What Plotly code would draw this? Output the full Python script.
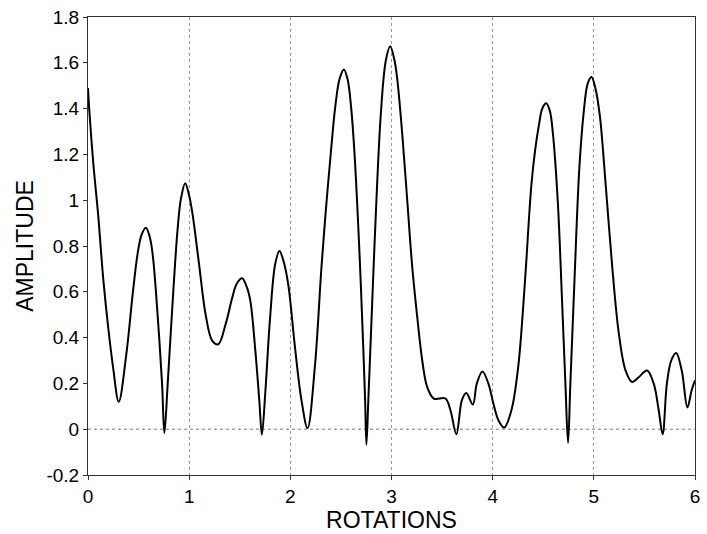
import plotly.graph_objects as go

rotations = [0.0, 0.01, 0.052, 0.101, 0.150, 0.200, 0.248, 0.304, 0.379, 0.444, 0.493, 0.530,
             0.572, 0.610, 0.640, 0.690, 0.732, 0.755, 0.788, 0.837, 0.886, 0.920, 0.961, 1.000,
             1.033, 1.098, 1.163, 1.229, 1.288, 1.360, 1.425, 1.470, 1.523, 1.570, 1.605, 1.654,
             1.693, 1.719, 1.752, 1.800, 1.850, 1.892, 1.935, 1.980, 2.046, 2.110, 2.170, 2.242,
             2.307, 2.350, 2.400, 2.444, 2.487, 2.529, 2.565, 2.600, 2.634, 2.683, 2.722, 2.739,
             2.752, 2.771, 2.797, 2.846, 2.895, 2.944, 2.987, 3.030, 3.059, 3.108, 3.157, 3.206,
             3.255, 3.304, 3.353, 3.418, 3.533, 3.582, 3.641, 3.696, 3.739, 3.804, 3.843, 3.899,
             3.958, 4.007, 4.056, 4.114, 4.186, 4.252, 4.317, 4.382, 4.420, 4.458, 4.490, 4.529,
             4.565, 4.595, 4.644, 4.686, 4.719, 4.745, 4.768, 4.807, 4.856, 4.899, 4.940, 4.977,
             5.015, 5.059, 5.118, 5.183, 5.248, 5.314, 5.379, 5.444, 5.526, 5.592, 5.641, 5.680,
             5.722, 5.765, 5.814, 5.869, 5.925, 5.967, 6.0]
amplitude = [1.49, 1.41, 1.163, 0.933, 0.66, 0.443, 0.27, 0.12, 0.328, 0.60, 0.774, 0.85,
             0.88, 0.84, 0.76, 0.487, 0.199, -0.017, 0.2, 0.559, 0.875, 1.01, 1.074, 1.02,
             0.94, 0.72, 0.50, 0.386, 0.371, 0.458, 0.573, 0.635, 0.659, 0.62, 0.559, 0.343,
             0.127, -0.024, 0.156, 0.487, 0.72, 0.778, 0.73, 0.63, 0.357, 0.127, 0.004, 0.27,
             0.703, 0.95, 1.206, 1.408, 1.53, 1.571, 1.53, 1.41, 1.207, 0.775, 0.343, 0.127,
             -0.068, 0.127, 0.415, 0.95, 1.38, 1.61, 1.672, 1.61, 1.52, 1.279, 0.991, 0.703,
             0.487, 0.30, 0.184, 0.134, 0.134, 0.084, -0.022, 0.127, 0.158, 0.108, 0.199, 0.252,
             0.199, 0.112, 0.04, 0.007, 0.084, 0.27, 0.631, 1.063, 1.22, 1.33, 1.40, 1.423,
             1.39, 1.293, 0.991, 0.559, 0.199, -0.06, 0.199, 0.631, 1.135, 1.38, 1.51, 1.538,
             1.49, 1.37, 1.063, 0.703, 0.415, 0.256, 0.206, 0.227, 0.256, 0.199, 0.084, -0.022,
             0.199, 0.30, 0.333, 0.256, 0.095, 0.17, 0.213]

x_ticks = [0, 1, 2, 3, 4, 5, 6]
y_ticks = [-0.2, 0, 0.2, 0.4, 0.6, 0.8, 1, 1.2, 1.4, 1.6, 1.8]
y_tick_labels = ["-0.2", "0", "0.2", "0.4", "0.6", "0.8", "1", "1.2", "1.4", "1.6", "1.8"]

font = "Liberation Sans, Arial, sans-serif"

fig = go.Figure()
fig.add_trace(go.Scatter(x=rotations, y=amplitude, mode="lines",
                         line=dict(color="black", width=2, shape="spline", smoothing=1.0),
                         showlegend=False))

fig.add_shape(type="line", xref="paper", x0=0, x1=1, yref="y", y0=0, y1=0,
              line=dict(color="#777", width=1, dash="dot"), layer="below")

fig.update_layout(
    width=707, height=534,
    margin=dict(l=88, r=7, t=12, b=58),
    paper_bgcolor="white", plot_bgcolor="white",
    font=dict(family=font, size=19, color="black"),
)
fig.update_xaxes(range=[0, 6], tickvals=x_ticks, showgrid=True, gridcolor="#999",
                 griddash="dot", gridwidth=1, zeroline=False, showline=True, linecolor="#333",
                 linewidth=1, mirror=True, ticks="outside", ticklen=4, tickcolor="#333",
                 title=dict(text="ROTATIONS", standoff=4), tickfont=dict(size=19))
fig.update_yaxes(range=[-0.2, 1.8], tickvals=y_ticks, ticktext=y_tick_labels, showgrid=False,
                 zeroline=False, showline=True, linecolor="#333", linewidth=1, mirror=True,
                 ticks="outside", ticklen=4, tickcolor="#333",
                 title=dict(text="AMPLITUDE", standoff=6), tickfont=dict(size=19))

fig.write_html("out.html")
